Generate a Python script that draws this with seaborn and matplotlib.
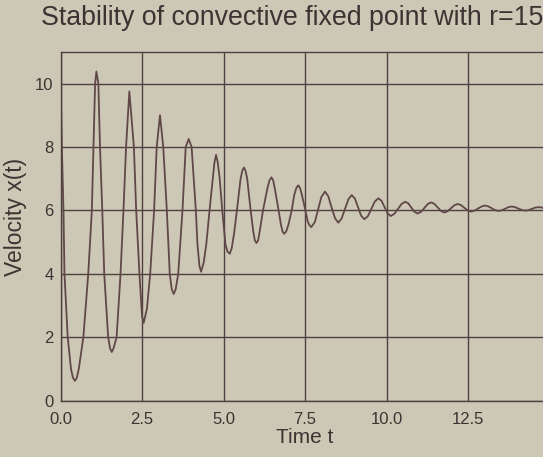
import matplotlib
matplotlib.use("Agg")
import matplotlib.pyplot as plt
import seaborn as sns
import pandas as pd

# ---- data ----
time_t = [
    0.00, 0.04, 0.09, 0.12, 0.22, 0.32, 0.38, 0.44, 0.50, 0.56, 0.70, 0.85,
    0.96, 1.01, 1.06, 1.10, 1.16, 1.21, 1.28, 1.34, 1.46, 1.52, 1.57, 1.63,
    1.72, 1.84, 1.93, 2.01, 2.11, 2.25, 2.32, 2.42, 2.50, 2.55, 2.65, 2.75,
    2.87, 2.95, 3.05, 3.15, 3.26, 3.35, 3.41, 3.47, 3.53, 3.61, 3.74, 3.84,
    3.93, 4.02, 4.15, 4.20, 4.26, 4.31,
    4.39, 4.47, 4.57, 4.67, 4.72, 4.77,
    4.82, 4.88, 4.96, 5.06, 5.12, 5.19,
    5.25, 5.32, 5.41, 5.52, 5.58, 5.63,
    5.68, 5.725, 5.82, 5.91, 5.96, 6.01,
    6.06, 6.11, 6.21, 6.35, 6.41, 6.47,
    6.52, 6.57, 6.68, 6.76, 6.81, 6.86,
    6.92, 6.99, 7.09, 7.17, 7.23, 7.29,
    7.34, 7.40, 7.50, 7.58, 7.64, 7.69,
    7.80, 7.90, 8.00, 8.11,
    8.21, 8.32, 8.42, 8.52,
    8.62, 8.725, 8.83, 8.93,
    9.03, 9.125, 9.22, 9.32,
    9.43, 9.535, 9.64, 9.75,
    9.845, 9.94, 10.035, 10.13,
    10.24, 10.35, 10.46, 10.57,
    10.665, 10.76, 10.855, 10.95,
    11.055, 11.16, 11.265, 11.37,
    11.47, 11.57, 11.67, 11.77,
    11.87, 11.975, 12.08, 12.18,
    12.28, 12.385, 12.49, 12.59,
    12.70, 12.805, 12.91, 13.02,
    13.12, 13.225, 13.33, 13.43,
    13.53, 13.635, 13.74, 13.84,
    13.94, 14.045, 14.15, 14.25,
    14.35, 14.455, 14.56, 14.66,
    14.76, 14.86, 14.96, 15.00,
]
velocity = [
    10.0, 8.0, 6.0, 4.0, 2.0, 1.0, 0.72, 0.62, 0.72, 1.0, 2.0, 4.0,
    6.0, 8.0, 10.0, 10.38, 10.0, 8.0, 6.0, 4.0, 2.0, 1.64, 1.53, 1.66,
    2.0, 4.0, 6.0, 8.0, 9.75, 8.0, 6.0, 4.0, 2.65, 2.45, 2.90, 4.0,
    6.0, 8.0, 9.0, 8.0, 6.0, 4.0, 3.52, 3.36, 3.50, 4.0, 6.0, 8.0,
    8.25, 8.0, 6.0, 4.92, 4.25, 4.06,
    4.35, 4.92, 6.0, 7.02, 7.50, 7.75,
    7.52, 7.02, 6.0, 4.92, 4.70, 4.63,
    4.80, 5.25, 6.0, 6.98, 7.27, 7.35,
    7.22, 7.0, 6.10, 5.34, 5.05, 4.97,
    5.05, 5.34, 6.0, 6.72, 6.95, 7.04,
    6.95, 6.70, 6.05, 5.55, 5.33, 5.26,
    5.33, 5.55, 6.0, 6.49, 6.70, 6.79,
    6.72, 6.50, 6.05, 5.65, 5.52, 5.47,
    5.63, 6.03, 6.42, 6.59,
    6.45, 6.07, 5.75, 5.61,
    5.74, 6.05, 6.35, 6.48,
    6.37, 6.10, 5.83, 5.72,
    5.82, 6.05, 6.28, 6.38,
    6.30, 6.10, 5.90, 5.82,
    5.89, 6.045, 6.20, 6.27,
    6.22, 6.085, 5.955, 5.90,
    5.95, 6.075, 6.20, 6.25,
    6.20, 6.09, 5.98, 5.93,
    5.97, 6.065, 6.16, 6.20,
    6.165, 6.08, 5.995, 5.96,
    5.99, 6.055, 6.12, 6.15,
    6.125, 6.065, 6.005, 5.98,
    6.00, 6.05, 6.10, 6.12,
    6.10, 6.055, 6.01, 5.99,
    6.005, 6.045, 6.085, 6.10,
    6.09, 6.05, 6.01, 6.005,
]

x_ticks = [0.0, 2.5, 5.0, 7.5, 10.0, 12.5]
x_tick_labels = ["0.0", "2.5", "5.0", "7.5", "10.0", "12.5"]
y_ticks = [0, 2, 4, 6, 8, 10]
y_tick_labels = ["0", "2", "4", "6", "8", "10"]

title = "Stability of convective fixed point with r=15"
x_label = "Time t"
y_label = "Velocity x(t)"

# ---- style ----
bg = "#cdc8b5"
ink = "#3d3333"
grid_c = "#4e4040"
line_c = "#604848"

sns.set_style("white")
plt.rcParams["font.family"] = ["Liberation Sans", "DejaVu Sans"]

fig = plt.figure(figsize=(5.43, 4.57), dpi=100, facecolor=bg)
ax = fig.add_axes([0.1115, 0.1236, 0.9006, 0.763])
ax.set_facecolor(bg)

df = pd.DataFrame({"t": time_t, "x": velocity})
sns.lineplot(data=df, x="t", y="x", sort=False, estimator=None, ax=ax,
             color=line_c, linewidth=1.3)

ax.set_xlim(0, 15)
ax.set_ylim(0, 11)
ax.set_xticks(x_ticks)
ax.set_xticklabels(x_tick_labels)
ax.set_yticks(y_ticks)
ax.set_yticklabels(y_tick_labels)
ax.grid(True, color=grid_c, linewidth=1.0)
ax.set_axisbelow(True)
ax.tick_params(axis="both", length=0, labelsize=12, colors=ink)
ax.tick_params(axis="x", pad=8)
ax.tick_params(axis="y", pad=5)
for s in ax.spines.values():
    s.set_color(grid_c)
    s.set_linewidth(1.0)

ax.set_xlabel(x_label, fontsize=15, color=ink, labelpad=1)
ax.set_ylabel(y_label, fontsize=16.5, color=ink)
ax.yaxis.set_label_coords(-0.069, 0.526)
fig.text(292 / 543, 1 - 18 / 457, title, ha="center", va="center",
         fontsize=19.3, color=ink)

fig.savefig("out.png", dpi=100, facecolor=bg)
